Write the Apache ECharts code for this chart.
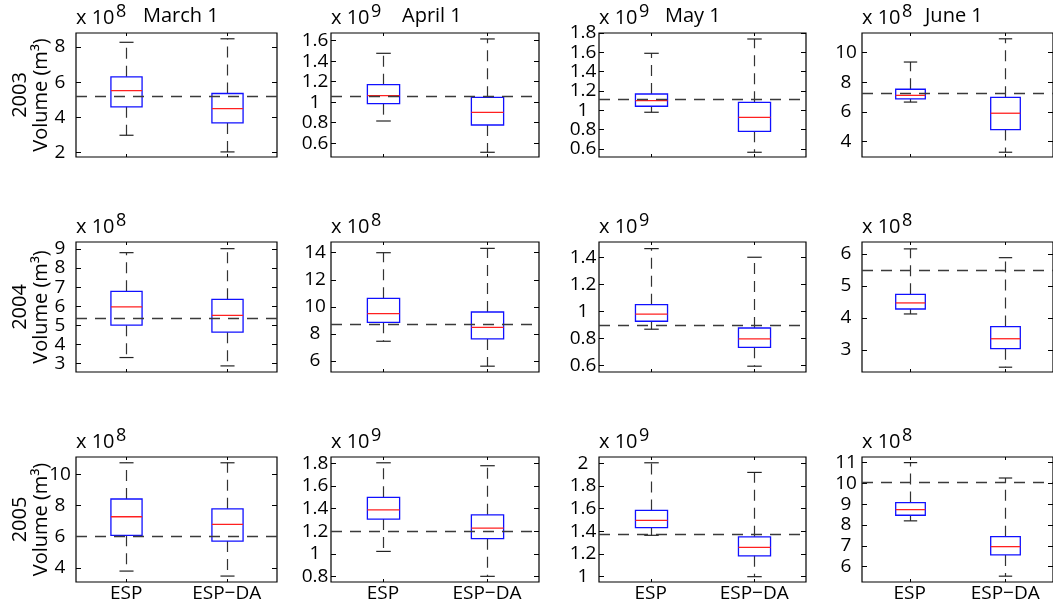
<!DOCTYPE html>
<html>
<head>
<meta charset="utf-8">
<script src="https://cdn.jsdelivr.net/npm/echarts@6/dist/echarts.min.js"></script>
<style>
html,body{margin:0;padding:0;background:#fff;}
#chart{width:1053px;height:606px;}
</style>
</head>
<body>
<div id="chart"></div>
<script>
// ---------------- DATA ----------------
const categories = ['ESP', 'ESP\u2212DA'];
const years = ['2003', '2004', '2005'];
const dates = ['March 1', 'April 1', 'May 1', 'June 1'];
// power of ten shown above each panel (rows = years, cols = dates)
const exponents = [[8, 9, 9, 8], [8, 8, 9, 8], [8, 9, 9, 8]];
// box stats: [lower whisker, Q1, median, Q3, upper whisker], in units of 10^exponent m3
const esp2003   = [[2.97, 4.59, 5.52, 6.30, 8.27], [0.817, 0.986, 1.064, 1.171, 1.477], [0.98, 1.042, 1.10, 1.169, 1.59], [6.66, 6.87, 7.11, 7.52, 9.35]];
const espDA2003 = [[2.02, 3.67, 4.49, 5.35, 8.47], [0.512, 0.778, 0.902, 1.048, 1.617], [0.566, 0.783, 0.928, 1.083, 1.738], [3.29, 4.81, 5.91, 6.98, 10.91]];
const esp2004   = [[3.30, 5.00, 5.96, 6.78, 8.81], [7.46, 8.86, 9.50, 10.63, 14.0], [0.870, 0.929, 0.981, 1.052, 1.467], [4.125, 4.28, 4.47, 4.74, 6.16]];
const espDA2004 = [[2.86, 4.63, 5.52, 6.36, 9.02], [5.62, 7.63, 8.49, 9.62, 14.32], [0.596, 0.736, 0.798, 0.879, 1.403], [2.46, 3.04, 3.35, 3.73, 5.885]];
const esp2005   = [[3.80, 6.09, 7.28, 8.42, 10.74], [1.023, 1.308, 1.39, 1.50, 1.805], [1.365, 1.432, 1.497, 1.585, 2.005], [8.2, 8.47, 8.74, 9.08, 11.0]];
const espDA2005 = [[3.48, 5.72, 6.79, 7.79, 10.74], [0.803, 1.135, 1.229, 1.346, 1.779], [1.0, 1.184, 1.259, 1.352, 1.92], [5.54, 6.56, 6.96, 7.44, 10.26]];
// observed volume (dashed line)
const observed = [[5.18, 1.064, 1.11, 7.27], [5.36, 8.69, 0.896, 5.5], [6.04, 1.2, 1.367, 10.05]];
// axis limits
const yMin = [[1.73, 0.466, 0.517, 2.97], [2.54, 5.19, 0.553, 2.31], [3.10, 0.753, 0.953, 5.26]];
const yMax = [[8.8, 1.675, 1.8, 11.3], [9.37, 14.79, 1.516, 6.375], [11.11, 1.856, 2.056, 11.27]];
// tick labels
const yTicks = [
  [[2, 4, 6, 8], [0.6, 0.8, 1, 1.2, 1.4, 1.6], [0.6, 0.8, 1, 1.2, 1.4, 1.6, 1.8], [4, 6, 8, 10]],
  [[3, 4, 5, 6, 7, 8, 9], [6, 8, 10, 12, 14], [0.6, 0.8, 1, 1.2, 1.4], [3, 4, 5, 6]],
  [[4, 6, 8, 10], [0.8, 1, 1.2, 1.4, 1.6, 1.8], [1, 1.2, 1.4, 1.6, 1.8, 2], [6, 7, 8, 9, 10, 11]]
];
const espStats = [esp2003, esp2004, esp2005];
const espDAStats = [espDA2003, espDA2004, espDA2005];

// ---------------- LAYOUT ----------------
const colLeft = [76, 331, 599, 862];
const colWidth = [201, 208, 207, 200];
const rowTop = [33, 242, 457];
const rowHeight = [124, 130, 125];
const titleLeft = [143, 402, 665, 925];
const FONT = '"Open Sans", "DejaVu Sans", sans-serif';

function renderBox(params, api) {
  const xi = api.value(0);
  const lo = api.coord([xi, api.value(1)]);
  const q1 = api.coord([xi, api.value(2)]);
  const md = api.coord([xi, api.value(3)]);
  const q3 = api.coord([xi, api.value(4)]);
  const hi = api.coord([xi, api.value(5)]);
  const band = api.size([1, 0])[0];
  const bw = band * 0.155;
  const cw = band * 0.07;
  const cx = Math.round(lo[0]) + 0.5;
  const dash = { stroke: '#333', lineWidth: 1.2, lineDash: [11, 7] };
  const solid = { stroke: '#222', lineWidth: 1.2 };
  return {
    type: 'group',
    children: [
      { type: 'line', shape: { x1: cx, y1: q3[1], x2: cx, y2: hi[1] }, style: dash },
      { type: 'line', shape: { x1: cx, y1: q1[1], x2: cx, y2: lo[1] }, style: dash },
      { type: 'line', shape: { x1: cx - cw, y1: hi[1], x2: cx + cw, y2: hi[1] }, style: solid },
      { type: 'line', shape: { x1: cx - cw, y1: lo[1], x2: cx + cw, y2: lo[1] }, style: solid },
      { type: 'rect', shape: { x: cx - bw, y: q3[1], width: 2 * bw, height: q1[1] - q3[1] },
        style: { fill: 'none', stroke: '#1010ff', lineWidth: 1.3 } },
      { type: 'line', shape: { x1: cx - bw, y1: md[1], x2: cx + bw, y2: md[1] },
        style: { stroke: '#ff2020', lineWidth: 1.3 } }
    ]
  };
}

const grid = [], xAxis = [], yAxis = [], series = [], graphic = [];
let gi = 0;
for (let r = 0; r < 3; r++) {
  for (let c = 0; c < 4; c++) {
    grid.push({ left: colLeft[c], top: rowTop[r], width: colWidth[c], height: rowHeight[r],
      show: true, borderColor: '#000', borderWidth: 1.2, backgroundColor: 'transparent' });
    const bottomRow = r === 2;
    xAxis.push({ type: 'category', gridIndex: gi, data: categories, position: 'bottom',
      axisLine: { show: false },
      axisTick: { show: true, inside: true, alignWithLabel: true, length: 3, lineStyle: { color: '#000' } },
      axisLabel: { show: bottomRow, margin: 2, color: '#000', fontFamily: FONT, fontSize: 19 },
      splitLine: { show: false } });
    xAxis.push({ type: 'category', gridIndex: gi, data: categories, position: 'top',
      axisLine: { show: false },
      axisTick: { show: true, inside: true, alignWithLabel: true, length: 3, lineStyle: { color: '#000' } },
      axisLabel: { show: false }, splitLine: { show: false } });
    const ticks = yTicks[r][c];
    yAxis.push({ type: 'value', gridIndex: gi, position: 'left', min: yMin[r][c], max: yMax[r][c],
      axisLine: { show: false },
      axisTick: { show: true, inside: true, length: 5, customValues: ticks, lineStyle: { color: '#000' } },
      axisLabel: { show: true, customValues: ticks, align: 'center', margin: 16, color: '#000',
        fontFamily: FONT, fontSize: 19 },
      splitLine: { show: false } });
    yAxis.push({ type: 'value', gridIndex: gi, position: 'right', min: yMin[r][c], max: yMax[r][c],
      axisLine: { show: false },
      axisTick: { show: true, inside: true, length: 5, customValues: ticks, lineStyle: { color: '#000' } },
      axisLabel: { show: false }, splitLine: { show: false } });
    series.push({
      type: 'custom', xAxisIndex: 2 * gi, yAxisIndex: 2 * gi, renderItem: renderBox,
      encode: { x: 0, y: [1, 2, 3, 4, 5] },
      data: [[0].concat(espStats[r][c]), [1].concat(espDAStats[r][c])],
      markLine: { silent: true, symbol: 'none', label: { show: false },
        lineStyle: { type: [11, 8], color: '#3a3a3a', width: 1.3 },
        data: [{ yAxis: observed[r][c] }] },
      z: 2
    });
    // exponent label
    graphic.push({ type: 'text', left: colLeft[c], top: rowTop[r] - 25,
      style: { text: 'x 10', font: '20px ' + FONT, fill: '#000' } });
    graphic.push({ type: 'text', left: colLeft[c] + 40, top: rowTop[r] - 30,
      style: { text: String(exponents[r][c]), font: '18px ' + FONT, fill: '#000' } });
    gi++;
  }
  // row label
  const mid = rowTop[r] + rowHeight[r] / 2;
  graphic.push({ type: 'text', x: 20, y: mid, rotation: Math.PI / 2,
    style: { text: years[r], font: '20px ' + FONT, fill: '#000', align: 'center', verticalAlign: 'middle' } });
  graphic.push({ type: 'text', x: 41, y: mid, rotation: Math.PI / 2,
    style: { text: 'Volume (m\u00B3)', font: '20px ' + FONT, fill: '#000', align: 'center', verticalAlign: 'middle' } });
}
for (let c = 0; c < 4; c++) {
  graphic.push({ type: 'text', left: titleLeft[c], top: 6,
    style: { text: dates[c], font: '20px ' + FONT, fill: '#000' } });
}

const chart = echarts.init(document.getElementById('chart'), null, { renderer: 'canvas' });
chart.setOption({
  animation: false,
  backgroundColor: '#fff',
  grid, xAxis, yAxis, series, graphic
});
</script>
</body>
</html>
